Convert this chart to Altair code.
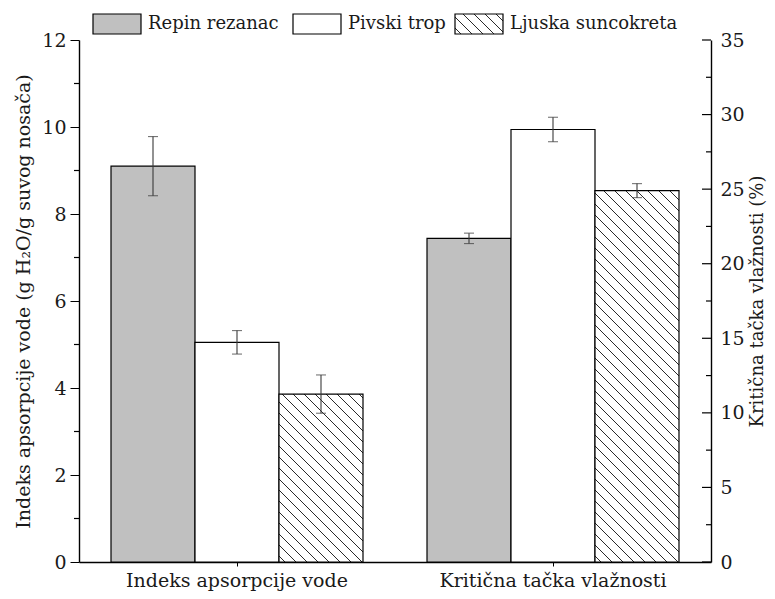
import math
import altair as alt
import pandas as pd

# ---------------- data ----------------
groups = ["Indeks apsorpcije vode", "Kritična tačka vlažnosti"]
series = ["Repin rezanac", "Pivski trop", "Ljuska suncokreta"]
wai_mean = [9.10, 5.05, 3.86]
wai_err = [0.68, 0.27, 0.44]
ctv_mean = [21.7, 29.0, 24.9]
ctv_err = [0.35, 0.82, 0.47]
left_major = [0, 2, 4, 6, 8, 10, 12]
left_minor = [1, 3, 5, 7, 9, 11]
right_major = [0, 5, 10, 15, 20, 25, 30, 35]
right_minor = [2.5, 7.5, 12.5, 17.5, 22.5, 27.5, 32.5]
fills = ["#c0c0c0", "#ffffff", "#ffffff"]

# ---------------- layout / style ----------------
W, H = 632, 522
LMAX, RMAX = 12, 35
FONT = "DejaVu Serif"
TXT = "#1a1a1a"
STEP = 84.0
HATCH_SP = 11.0
HATCH_LW = 1.0
HATCH_COL = "#2a2a2a"


def hatch(w, h, sp=HATCH_SP, lw=HATCH_LW, col=HATCH_COL, bg="#ffffff"):
    L = w + h
    c = L / (w * w + h * h)
    d = lw * math.sqrt(2)
    stops = [alt.GradientStop(offset=0, color=bg)]
    pos = sp * 0.5
    while pos < L:
        t0 = pos / L
        t1 = min((pos + d) / L, 1.0)
        stops += [
            alt.GradientStop(offset=t0, color=bg),
            alt.GradientStop(offset=t0, color=col),
            alt.GradientStop(offset=t1, color=col),
            alt.GradientStop(offset=t1, color=bg),
        ]
        pos += sp
    stops.append(alt.GradientStop(offset=1, color=bg))
    return alt.LinearGradient(gradient="linear", stops=stops,
                              x1=0, y1=1, x2=c * w, y2=1 - c * h)


def frame(g, means, errs):
    return pd.DataFrame({
        "grupa": g,
        "serija": series,
        "v": means,
        "lo": [m - e for m, e in zip(means, errs)],
        "hi": [m + e for m, e in zip(means, errs)],
    })


df1 = frame(groups[0], wai_mean, wai_err)
df2 = frame(groups[1], ctv_mean, ctv_err)

x_enc = alt.X("grupa:N", scale=alt.Scale(domain=groups, paddingInner=0, paddingOuter=0),
              axis=alt.Axis(title=None, labelAngle=0, tickSize=4, labelPadding=5,
                            labelFont=FONT, labelFontSize=19, labelLimit=500,
                            domainColor="black", domainWidth=1.4, tickColor="black",
                            labelColor=TXT))
xo_enc = alt.XOffset("serija:N", scale=alt.Scale(domain=series, paddingInner=0, paddingOuter=0.381))

left_axis = alt.Axis(orient="left", values=left_major, tickSize=9, tickColor="black",
                     domainColor="black", domainWidth=1.4, labelPadding=4,
                     labelFont=FONT, labelFontSize=19, labelColor=TXT, grid=False,
                     title="Indeks apsorpcije vode (g H₂O/g suvog nosača)",
                     titleFont=FONT, titleFontSize=19, titleFontWeight="normal",
                     titlePadding=8, titleColor=TXT)
right_axis = alt.Axis(orient="right", values=right_major, ticks=False,
                      domainColor="black", domainWidth=1.4, labelPadding=9,
                      labelFont=FONT, labelFontSize=19, labelColor=TXT, grid=False,
                      title="Kritična tačka vlažnosti (%)",
                      titleFont=FONT, titleFontSize=18, titleFontWeight="normal",
                      titleAngle=270, titleBaseline="top", titlePadding=4, titleColor=TXT)

lscale = alt.Scale(domain=[0, LMAX], nice=False, zero=True)
rscale = alt.Scale(domain=[0, RMAX], nice=False, zero=True)


def group_layers(df, scale, axis, pxu, mean3):
    ytitle = axis.title
    plain = alt.Chart(df).transform_filter(
        alt.FieldOneOfPredicate(field="serija", oneOf=series[:2])
    ).mark_bar(stroke="black", strokeWidth=1.2).encode(
        x=x_enc, xOffset=xo_enc,
        y=alt.Y("v:Q", scale=scale, axis=axis, title=ytitle),
        fill=alt.Fill("serija:N", scale=alt.Scale(domain=series, range=fills), legend=None),
    )
    hatched = alt.Chart(df).transform_filter(
        alt.FieldEqualPredicate(field="serija", equal=series[2])
    ).mark_bar(stroke="black", strokeWidth=1.2, fill=hatch(STEP, mean3 * pxu)).encode(
        x=x_enc, xOffset=xo_enc,
        y=alt.Y("v:Q", scale=scale, axis=axis, title=ytitle),
    )
    err = alt.Chart(df).mark_rule(color="#3a3a3a", strokeWidth=1.1).encode(
        x=x_enc, xOffset=xo_enc,
        y=alt.Y("lo:Q", scale=scale, axis=axis, title=ytitle),
        y2="hi:Q",
    )
    caps = alt.Chart(df).transform_fold(["lo", "hi"], as_=["k", "e"]).mark_tick(
        color="#3a3a3a", size=10, thickness=1.1
    ).encode(
        x=x_enc, xOffset=xo_enc,
        y=alt.Y("e:Q", scale=scale, axis=axis, title=ytitle),
    )
    return [plain, hatched, err, caps]


lpx = H / LMAX
rpx = H / RMAX

# minor ticks (left, outward) and right ticks (inward)
lminor = alt.Chart(pd.DataFrame({"t": left_minor})).mark_rule(color="black", strokeWidth=1.2).encode(
    y=alt.Y("t:Q", scale=lscale, axis=left_axis, title=left_axis.title),
    x=alt.value(-5), x2=alt.value(0))
rmajor = alt.Chart(pd.DataFrame({"t": right_major})).mark_rule(color="black", strokeWidth=1.2).encode(
    y=alt.Y("t:Q", scale=rscale, axis=right_axis, title=right_axis.title),
    x=alt.value(W - 9), x2=alt.value(W))
rminor = alt.Chart(pd.DataFrame({"t": right_minor})).mark_rule(color="black", strokeWidth=1.2).encode(
    y=alt.Y("t:Q", scale=rscale, axis=right_axis, title=right_axis.title),
    x=alt.value(W - 5), x2=alt.value(W))

# legend
leg = []
box_x = [14, 214, 376]
box_w = 48
for i, s in enumerate(series):
    d = pd.DataFrame({"label": [s]})
    if i == 2:
        box = alt.Chart(d).mark_rect(stroke="black", strokeWidth=1.2, fill=hatch(box_w, 20))
    else:
        box = alt.Chart(d).mark_rect(stroke="black", strokeWidth=1.2, fill=fills[i])
    leg.append(box.encode(x=alt.value(box_x[i]), x2=alt.value(box_x[i] + box_w),
                          y=alt.value(-26), y2=alt.value(-6)))
    leg.append(alt.Chart(d).mark_text(align="left", baseline="middle", font=FONT, fontSize=18,
                                      color=TXT).encode(
        x=alt.value(box_x[i] + box_w + 7), y=alt.value(-16), text="label:N"))

left = alt.layer(*group_layers(df1, lscale, left_axis, lpx, wai_mean[2]), lminor, *leg)
right = alt.layer(*group_layers(df2, rscale, right_axis, rpx, ctv_mean[2]), rmajor, rminor)

chart = alt.layer(left, right).resolve_scale(y="independent").properties(
    width=W, height=H,
    autosize=alt.AutoSizeParams(type="none"),
    padding={"left": 71, "top": 32, "right": 56, "bottom": 29},
    background="white",
).configure_view(stroke=None).configure_axis(
    labelFont=FONT, titleFont=FONT
)

chart.save("out.html", embed_options={"renderer": "svg", "actions": False})
